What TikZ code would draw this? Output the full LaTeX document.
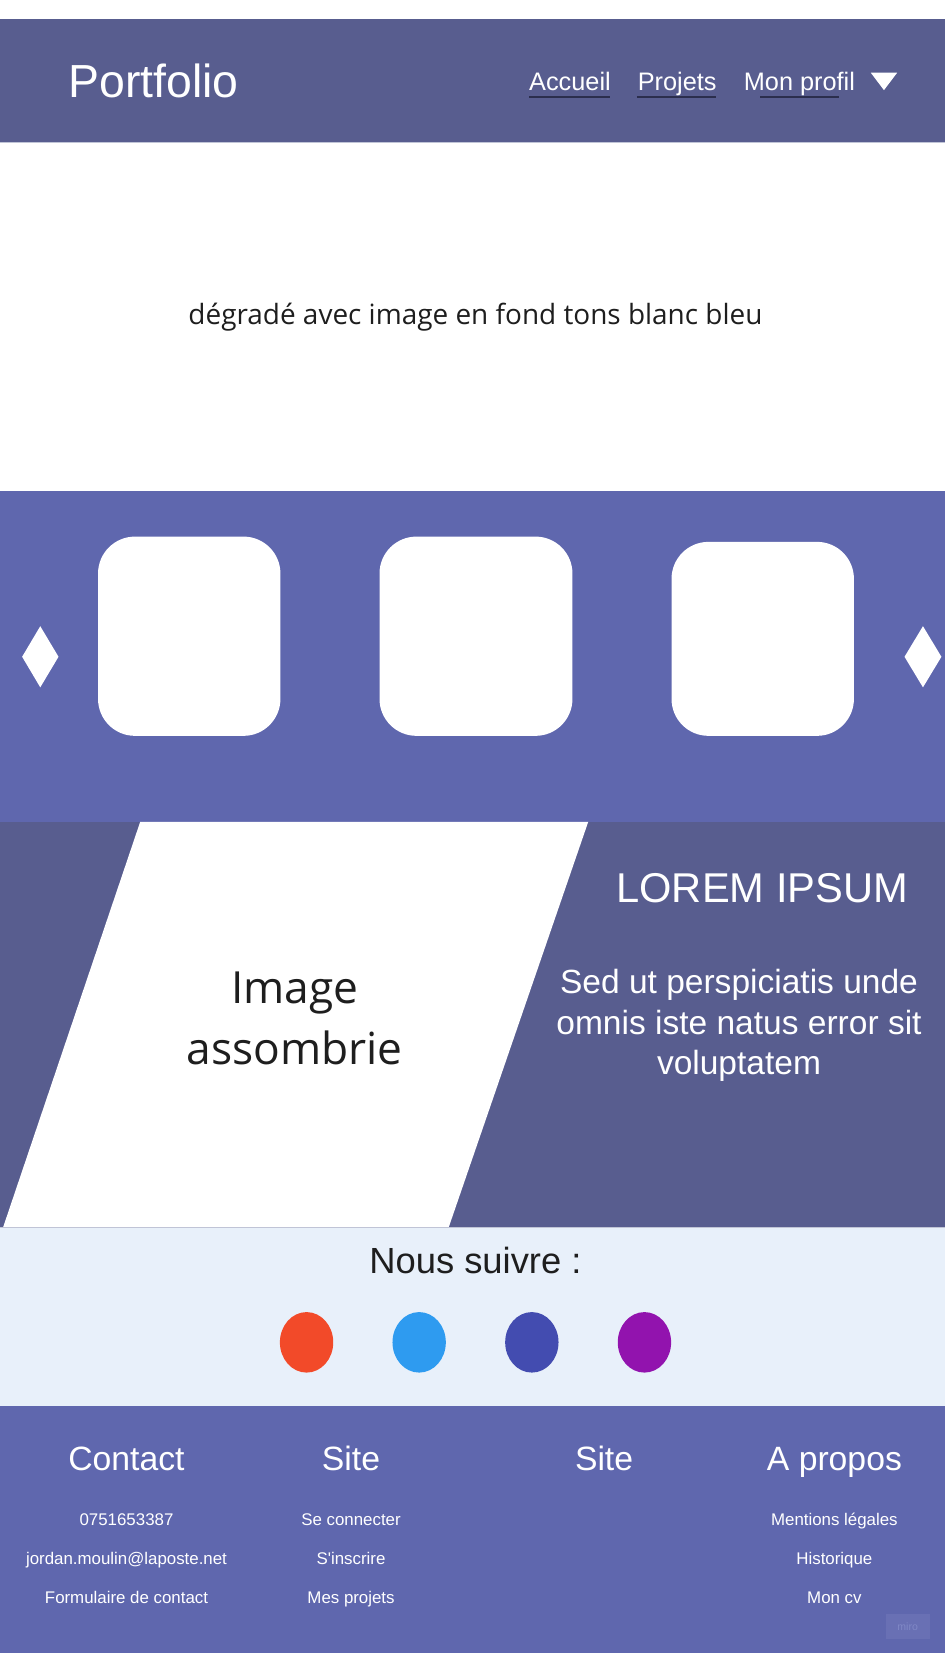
\documentclass[tikz,border=0pt]{standalone}
\usepackage{fontspec}
\setmainfont{Liberation Sans}[Ligatures=TeXOff]
\newfontfamily\opensans{Open Sans}
\definecolor{hdr}{HTML}{585D8F}
\definecolor{band}{HTML}{5F67AE}
\definecolor{dark}{HTML}{585D8F}
\definecolor{pale}{HTML}{E8F0FA}
\definecolor{uline}{HTML}{2B2E4D}
\definecolor{ink}{HTML}{1E1E1E}
\definecolor{dotred}{HTML}{F24A29}
\definecolor{dotblue}{HTML}{2E9BF0}
\definecolor{dotindigo}{HTML}{434CB0}
\definecolor{dotpurple}{HTML}{9213AE}
\definecolor{sepline}{HTML}{C0C4D6}
\definecolor{miroBox}{HTML}{6970B4}
\definecolor{miroTxt}{HTML}{8088C6}
\begin{document}
\begin{tikzpicture}[x=1pt,y=-1pt,
  every node/.style={inner sep=0pt, outer sep=0pt},
  navtxt/.style={anchor=base west, text=white, font=\fontsize{24}{28}\selectfont},
  navline/.style={draw=uline, line width=1.8pt},
  card/.style={fill=white, rounded corners=35pt},
  arrowdia/.style={fill=white},
  wtxt/.style={anchor=base, text=white},
  foothead/.style={anchor=base, text=white, font=\fontsize{32}{36}\selectfont},
  footitem/.style={anchor=base, text=white, font=\fontsize{16}{19}\selectfont}
]
\useasboundingbox (0,0) rectangle (896.4,1568);
\fill[white] (0,0) rectangle (896.4,1568);

% header
\fill[hdr] (0,18) rectangle (896.4,135.5);
\draw[sepline, line width=0.8pt] (0,135.5) -- (896.4,135.5);
\node[anchor=base west, text=white, font=\fontsize{44}{50}\selectfont] (logo) at (65,92.6) {Portfolio};
\node[navtxt] (accueil) at (502,86) {Accueil};
\node[navtxt] (projets) at (605,86) {Projets};
\node[navtxt] (profil) at (705.6,86) {Mon profil};
\draw[navline] (502,92) -- (579,92);
\draw[navline] (604,92) -- (679,92);
\draw[navline] (721,92) -- (796,92);
\fill[white] (826,69) -- (851,69) -- (838.5,85.5) -- cycle;

% hero
\node[anchor=base, text=ink, font=\opensans\fontsize{26.5}{32}\selectfont] (hero) at (451,308) {dégradé avec image en fond tons blanc bleu};

% carousel
\fill[band] (0,466) rectangle (896.4,779.5);
\fill[card] (93,509) rectangle (266,698);
\fill[card] (360,509) rectangle (543,698);
\fill[card] (637,514) rectangle (810,698);
\fill[arrowdia] (38.2,594) -- (55.5,623) -- (38.2,652) -- (21,623) -- cycle;
\fill[arrowdia] (875.5,594) -- (893,623) -- (875.5,652) -- (858,623) -- cycle;

% dark section
\fill[dark] (0,779.5) rectangle (896.4,1164);
\fill[white] (133,779.5) -- (558,779.5) -- (425.7,1164) -- (3,1164) -- cycle;
\node[anchor=base, text=ink, font=\opensans\fontsize{42}{48}\selectfont] (img1) at (279.5,952) {Image};
\node[anchor=base, text=ink, font=\opensans\fontsize{42}{48}\selectfont] (img2) at (279.5,1010) {assombrie};
\node[wtxt, font=\fontsize{39.5}{44}\selectfont] (lorem) at (723,856.5) {LOREM IPSUM};
\node[wtxt, font=\fontsize{31.8}{36}\selectfont] (sed1) at (701,942) {Sed ut perspiciatis unde};
\node[wtxt, font=\fontsize{31.8}{36}\selectfont] (sed2) at (701,981) {omnis iste natus error sit};
\node[wtxt, font=\fontsize{31.8}{36}\selectfont] (sed3) at (701,1019) {voluptatem};

% follow band
\fill[pale] (0,1164) rectangle (896.4,1334);
\draw[sepline, line width=1pt] (0,1164) -- (896.4,1164);
\node[anchor=base, text=ink, font=\fontsize{34.5}{40}\selectfont] (nous) at (451,1208) {Nous suivre :};
\fill[dotred] (290.8,1273.3) ellipse [x radius=25.3, y radius=28.7];
\fill[dotblue] (397.6,1273.3) ellipse [x radius=25.3, y radius=28.7];
\fill[dotindigo] (504.5,1273.3) ellipse [x radius=25.3, y radius=28.7];
\fill[dotpurple] (611.3,1273.3) ellipse [x radius=25.3, y radius=28.7];

% footer
\fill[band] (0,1334) rectangle (896.4,1568);
\node[foothead] (hcontact) at (120,1394.4) {Contact};
\node[foothead] (hsite1) at (333,1394.4) {Site};
\node[foothead] (hsite2) at (573,1394.4) {Site};
\node[foothead] (hapropos) at (791.5,1394.4) {A propos};
\node[footitem] (c1) at (120,1446.6) {0751653387};
\node[footitem] (c2) at (120,1484) {jordan.moulin@laposte.net};
\node[footitem] (c3) at (120,1521) {Formulaire de contact};
\node[footitem] (s1) at (333,1446.6) {Se connecter};
\node[footitem] (s2) at (333,1484) {S'inscrire};
\node[footitem] (s3) at (333,1521) {Mes projets};
\node[footitem] (a1) at (791.5,1446.6) {Mentions légales};
\node[footitem] (a2) at (791.5,1484) {Historique};
\node[footitem] (a3) at (791.5,1521) {Mon cv};
\fill[miroBox] (840,1531) rectangle (882,1554.5);
\node[text=miroTxt, font=\fontsize{10}{12}\selectfont] (miro) at (861,1542.7) {miro};
\end{tikzpicture}
\end{document}
